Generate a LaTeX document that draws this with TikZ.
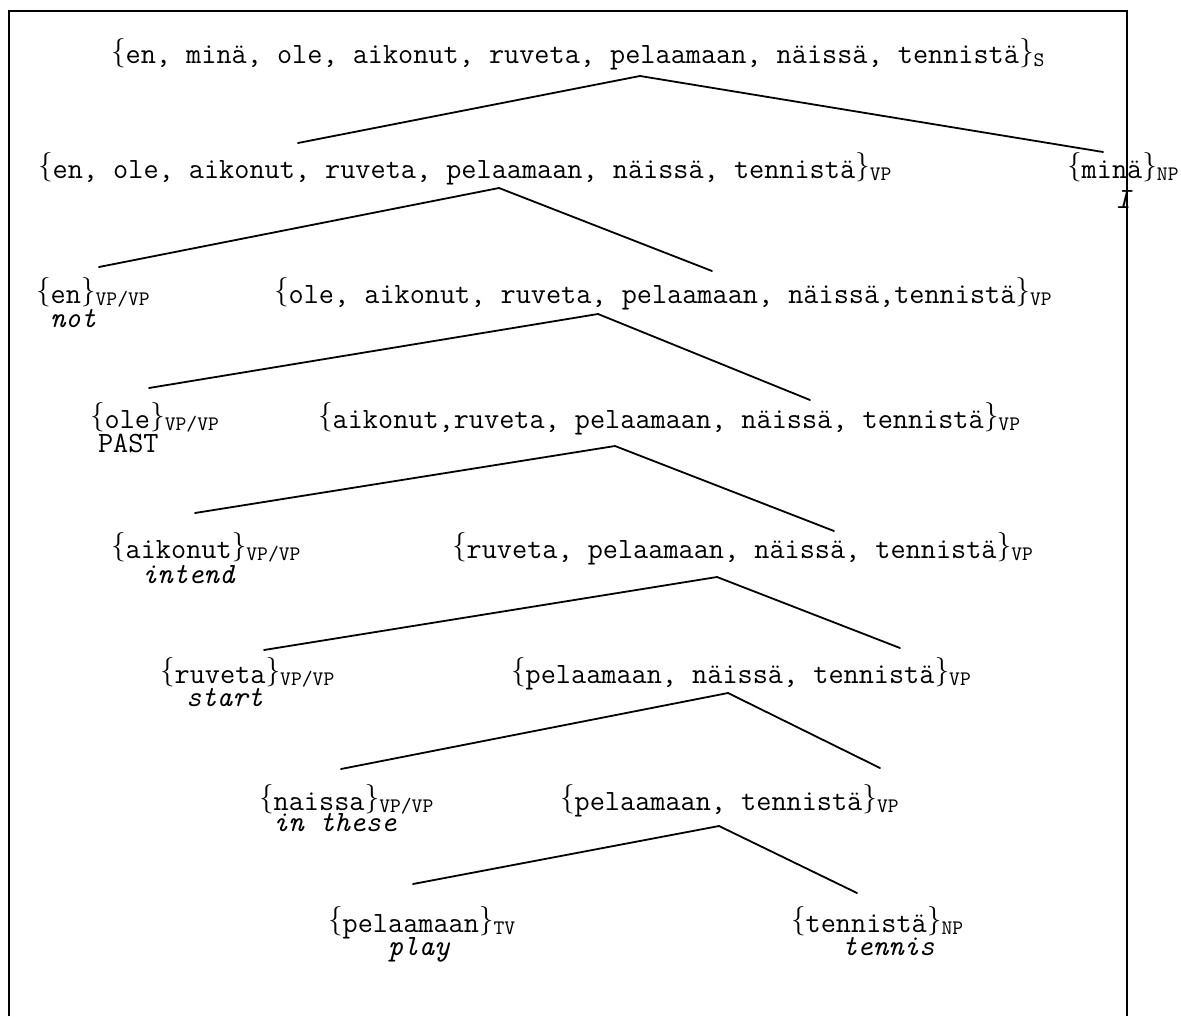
\documentclass[tikz,border=0pt]{standalone}
\usepackage{fontspec}
\newcommand\lb{\raisebox{1.6pt}{\rmfamily\upshape\{}}
\newcommand\rb{\raisebox{1.6pt}{\rmfamily\upshape\}}}
\newcommand\catsub[1]{\raisebox{-1.3pt}{\fontsize{10.3pt}{11pt}\selectfont\ttfamily #1}}
\tikzset{
  lbl/.style={anchor=base west, inner sep=0pt, outer sep=0pt, font=\fontsize{14.7pt}{17pt}\selectfont\ttfamily},
  gloss/.style={lbl, font=\fontsize{14.7pt}{17pt}\selectfont\ttfamily\itshape},
  branch/.style={line width=0.9pt, line cap=round},
  frameline/.style={line width=0.8pt}
}
\begin{document}
\begin{tikzpicture}[x=0.5pt,y=-0.5pt]
\useasboundingbox (0,0) rectangle (1181,1016);

% row 0
\node[lbl] (s) at (111,64) {\lb en, minä, ole, aikonut, ruveta, pelaamaan, näissä, tennistä\rb\catsub{S}};
% row 1
\node[lbl] (vp1) at (38,178) {\lb en, ole, aikonut, ruveta, pelaamaan, näissä, tennistä\rb\catsub{VP}};
\node[lbl] (np1) at (1067,178) {\lb minä\rb\catsub{NP}};
\node[gloss, anchor=base] (np1g) at (1123,208) {I};
% row 2
\node[lbl] (en) at (36,303) {\lb en\rb\catsub{VP/VP}};
\node[gloss] (eng) at (50,327) {not};
\node[lbl] (vp2) at (274,303) {\lb ole, aikonut, ruveta, pelaamaan, näissä,tennistä\rb\catsub{VP}};
% row 3
\node[lbl] (ole) at (90,428) {\lb ole\rb\catsub{VP/VP}};
\node[lbl] (oleg) at (98,452) {PAST};
\node[lbl] (vp3) at (318,428) {\lb aikonut,ruveta, pelaamaan, näissä, tennistä\rb\catsub{VP}};
% row 4
\node[lbl] (aik) at (111,558) {\lb aikonut\rb\catsub{VP/VP}};
\node[gloss] (aikg) at (142,583) {intend};
\node[lbl] (vp4) at (452,558) {\lb ruveta, pelaamaan, näissä, tennistä\rb\catsub{VP}};
% row 5
\node[lbl] (ruv) at (160,683) {\lb ruveta\rb\catsub{VP/VP}};
\node[gloss] (ruvg) at (186,706) {start};
\node[lbl] (vp5) at (511,683) {\lb pelaamaan, näissä, tennistä\rb\catsub{VP}};
% row 6
\node[lbl] (nai) at (259,810) {\lb naissa\rb\catsub{VP/VP}};
\node[gloss] (naig) at (273,831) {in these};
\node[lbl] (vp6) at (560,810) {\lb pelaamaan, tennistä\rb\catsub{VP}};
% row 7
\node[lbl] (pel) at (328,932) {\lb pelaamaan\rb\catsub{TV}};
\node[gloss] (pelg) at (388,955) {play};
\node[lbl] (ten) at (791,932) {\lb tennistä\rb\catsub{NP}};
\node[gloss] (teng) at (842,955) {tennis};

% frame (bottom edge lies outside the picture)
\coordinate (fbl) at (9,1016);
\coordinate (ftl) at (9,11);
\coordinate (ftr) at (1127,11);
\coordinate (fbr) at (1127,1016);
\draw[frameline] (fbl) -- (ftl) -- (ftr) -- (fbr);

% branch points
\coordinate (s-b) at (640,76);   \coordinate (vp1-t) at (298,143); \coordinate (np1-t) at (1103,152);
\coordinate (vp1-b) at (499,188); \coordinate (en-t) at (99,267);   \coordinate (vp2-t) at (712,271);
\coordinate (vp2-b) at (598,314); \coordinate (ole-t) at (149,388); \coordinate (vp3-t) at (810,400);
\coordinate (vp3-b) at (615,446); \coordinate (aik-t) at (195,513); \coordinate (vp4-t) at (834,531);
\coordinate (vp4-b) at (717,577); \coordinate (ruv-t) at (264,650); \coordinate (vp5-t) at (900,648);
\coordinate (vp5-b) at (728,693); \coordinate (nai-t) at (341,769); \coordinate (vp6-t) at (880,768);
\coordinate (vp6-b) at (719,826); \coordinate (pel-t) at (413,884); \coordinate (ten-t) at (857,893);

\draw[branch] (vp1-t) -- (s-b) -- (np1-t);
\draw[branch] (en-t) -- (vp1-b) -- (vp2-t);
\draw[branch] (ole-t) -- (vp2-b) -- (vp3-t);
\draw[branch] (aik-t) -- (vp3-b) -- (vp4-t);
\draw[branch] (ruv-t) -- (vp4-b) -- (vp5-t);
\draw[branch] (nai-t) -- (vp5-b) -- (vp6-t);
\draw[branch] (pel-t) -- (vp6-b) -- (ten-t);
\end{tikzpicture}
\end{document}
